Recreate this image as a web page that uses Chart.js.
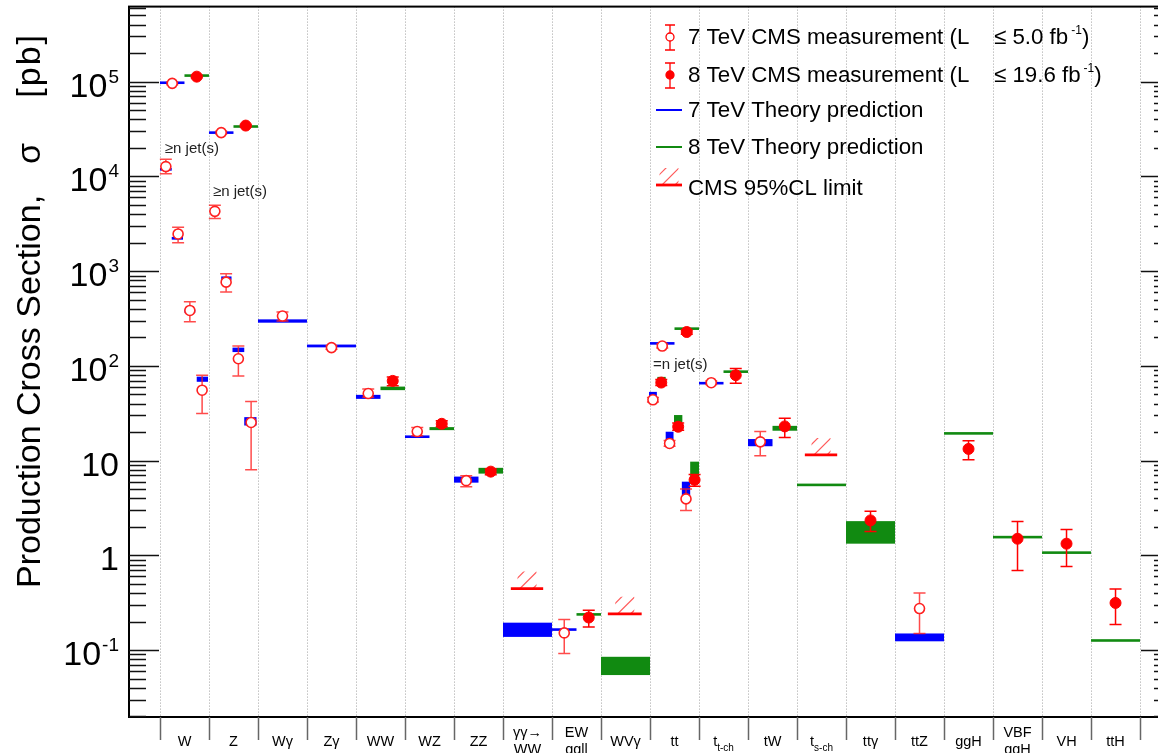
<!DOCTYPE html>
<html>
<head>
<meta charset="utf-8">
<script src="https://cdn.jsdelivr.net/npm/chart.js@4.4.1/dist/chart.umd.min.js"></script>
<style>
  html, body { margin: 0; padding: 0; overflow: hidden; background: #fff; }
  canvas { display: block; }
</style>
</head>
<body>
<canvas id="xsec" width="1180" height="753"></canvas>
<script>
const FONT = '"Liberation Sans", Arial, Helvetica, sans-serif';
const BLUE = '#0000ff';
const GREEN = '#118a11';
const RED = '#ff0000';

// process names, '\n' = second line, '_' = subscript
const categories = ['W', 'Z', 'Wγ', 'Zγ', 'WW', 'WZ', 'ZZ', 'γγ→\nWW', 'EW\nqqll', 'WVγ',
  'tt', 't_t-ch', 'tW', 't_s-ch', 'ttγ', 'ttZ', 'ggH', 'VBF\nqqH', 'VH', 'ttH'];

const yTickValues = [0.1, 1, 10, 100, 1e3, 1e4, 1e5];
const yTickLabels = [['10', '-1'], ['1', ''], ['10', ''], ['10', '2'], ['10', '3'], ['10', '4'], ['10', '5']];

// 7 TeV measurements [bin position, sigma, low, high] in pb
const meas7 = [
  [0.25, 9.6e4, 9.3e4, 9.9e4],
  [0.12, 1.27e4, 1.07e4, 1.52e4],
  [0.37, 2.47e3, 1.99e3, 2.9e3],
  [0.61, 385, 293, 475],
  [0.86, 55.4, 31.5, 79.8],
  [1.25, 2.9e4, 2.8e4, 3.0e4],
  [1.12, 4.28e3, 3.59e3, 4.95e3],
  [1.35, 766, 601, 937],
  [1.60, 119, 78.5, 162],
  [1.86, 25.3, 8.0, 42],
  [2.5, 336, 298, 370],
  [3.5, 156, 150, 163],
  [4.25, 51.1, 46.6, 56.9],
  [5.25, 20.3, 18.3, 22.4],
  [6.25, 6.15, 5.3, 6.95],
  [8.25, 0.152, 0.092, 0.21],
  [10.25, 162, 155, 170],
  [10.06, 43.9, 41.5, 46.5],
  [10.40, 15.2, 14.2, 16.3],
  [10.735, 3.95, 2.98, 5.03],
  [11.25, 66.5, 63.5, 69.5],
  [12.25, 15.8, 11.3, 20.3],
  [15.5, 0.275, 0.150, 0.401]
];

// 8 TeV measurements [bin position, sigma, low, high] in pb
const meas8 = [
  [0.75, 1.13e5, 1.10e5, 1.16e5],
  [1.75, 3.44e4, 3.35e4, 3.53e4],
  [4.75, 69.5, 61.6, 76.6],
  [5.75, 24.5, 22.8, 26.3],
  [6.75, 7.66, 7.1, 8.2],
  [8.75, 0.221, 0.176, 0.264],
  [10.75, 228, 216, 240],
  [10.23, 66.7, 62, 72],
  [10.575, 22.8, 21, 25],
  [10.91, 6.27, 5.36, 7.13],
  [11.75, 79.8, 65.8, 93.7],
  [12.75, 23.0, 17.6, 28.1],
  [14.5, 2.34, 1.79, 2.92],
  [16.5, 13.3, 10.2, 16.2],
  [17.5, 1.50, 0.695, 2.28],
  [18.5, 1.33, 0.766, 1.88],
  [19.5, 0.315, 0.187, 0.442]
];

// theory predictions [from, to, low, high] in pb
const theory7 = [
  [0, 0.5, 9.5e4, 1.0e5],
  [0.0, 0.24, 1.15e4, 1.23e4],
  [0.24, 0.47, 2.15e3, 2.3e3],
  [0.50, 0.72, 365, 395],
  [0.75, 0.98, 68, 77],
  [1, 1.5, 2.82e4, 2.98e4],
  [1.02, 1.22, 4.2e3, 4.5e3],
  [1.25, 1.46, 810, 880],
  [1.48, 1.72, 140, 156],
  [1.72, 1.97, 23.5, 28.8],
  [2, 3, 286, 310],
  [3, 4, 157, 168],
  [4, 4.5, 44.9, 49.5],
  [5, 5.5, 17.5, 18.3],
  [6, 6.5, 5.86, 6.79],
  [7, 8, 0.138, 0.195],
  [8, 8.5, 0.16, 0.17],
  [10, 10.5, 168, 178],
  [9.98, 10.14, 43.9, 53.2],
  [10.32, 10.48, 13.8, 20.2],
  [10.65, 10.82, 4.28, 6.0],
  [11, 11.5, 64.5, 67],
  [12, 12.5, 14.2, 16.9],
  [15, 16, 0.124, 0.150]
];

const theory8 = [
  [0.5, 1, 1.13e5, 1.19e5],
  [1.5, 2, 3.28e4, 3.45e4],
  [4.5, 5, 55.5, 60.5],
  [5.5, 6, 21, 22.6],
  [6.5, 7, 7.3, 8.4],
  [8.5, 9, 0.232, 0.245],
  [9, 10, 0.0546, 0.0851],
  [10.5, 11, 240, 255],
  [10.15, 10.32, 64, 76.6],
  [10.49, 10.66, 20.7, 30.3],
  [10.82, 11, 5.69, 9.76],
  [11.5, 12, 85, 89],
  [12.5, 13, 20.7, 23.3],
  [13, 14, 5.4, 5.7],
  [14, 15, 1.33, 2.30],
  [16, 17, 19.2, 19.6],
  [17, 18, 1.52, 1.60],
  [18, 19, 1.05, 1.09],
  [19, 20, 0.125, 0.128]
];

// 95% CL upper limits [from, to, sigma]
const limits = [
  [7.16, 7.82, 0.447],
  [9.14, 9.83, 0.242],
  [13.16, 13.82, 11.5]
];

const jetNotes = ['≥n jet(s)', '≥n jet(s)', '=n jet(s)'];
const jetNoteX = [0.1, 1.08, 10.06];
const jetNoteY = [1.97e4, 6.8e3, 102];

function drawBands(ctx, x, y, rows, color) {
  ctx.fillStyle = color;
  rows.forEach(([x0, x1, lo, hi]) => {
    const px0 = x.getPixelForValue(x0), px1 = x.getPixelForValue(x1);
    let top = y.getPixelForValue(hi), bot = y.getPixelForValue(lo);
    if (bot - top < 2.6) { const c = (top + bot) / 2; top = c - 1.3; bot = c + 1.3; }
    ctx.fillRect(px0, top, px1 - px0, bot - top);
  });
}

function drawErrors(ctx, x, y, rows, color) {
  ctx.strokeStyle = color;
  ctx.lineWidth = 1.5;
  rows.forEach(([xv, , lo, hi]) => {
    const px = x.getPixelForValue(xv);
    const top = y.getPixelForValue(hi), bot = y.getPixelForValue(lo);
    ctx.beginPath();
    ctx.moveTo(px, top); ctx.lineTo(px, bot);
    ctx.moveTo(px - 6, top); ctx.lineTo(px + 6, top);
    ctx.moveTo(px - 6, bot); ctx.lineTo(px + 6, bot);
    ctx.stroke();
  });
}

// red line with a short diagonal hatch on the excluded side
function drawLimit(ctx, x0, x1, py) {
  const cx = (x0 + x1) / 2;
  ctx.save();
  ctx.beginPath();
  ctx.rect(cx - 9.5, py - 17, 19, 17);
  ctx.clip();
  ctx.strokeStyle = 'rgba(255,40,40,0.75)';
  ctx.lineWidth = 1.2;
  ctx.beginPath();
  [-20, -7, 6].forEach(d => {
    ctx.moveTo(cx + d, py);
    ctx.lineTo(cx + d + 20, py - 20);
  });
  ctx.stroke();
  ctx.restore();
  ctx.strokeStyle = RED;
  ctx.lineWidth = 2.8;
  ctx.beginPath();
  ctx.moveTo(x0, py); ctx.lineTo(x1, py);
  ctx.stroke();
}

function drawPower(ctx, base, exp, xRight, yc) {
  ctx.fillStyle = '#000';
  ctx.textAlign = 'left';
  ctx.textBaseline = 'alphabetic';
  ctx.font = '19px ' + FONT;
  const ew = exp ? ctx.measureText(exp).width + 1 : 0;
  ctx.font = '34px ' + FONT;
  const bw = ctx.measureText(base).width;
  ctx.fillText(base, xRight - ew - bw, yc + 15);
  if (exp) {
    ctx.font = '19px ' + FONT;
    ctx.fillText(exp, xRight - ew + 1, yc + 1);
  }
}

function drawCategory(ctx, label, cx) {
  ctx.fillStyle = '#000';
  ctx.textBaseline = 'alphabetic';
  if (label.includes('\n')) {
    const [l1, l2] = label.split('\n');
    ctx.font = '14.5px ' + FONT;
    ctx.textAlign = 'center';
    ctx.fillText(l1, cx, 737);
    ctx.fillText(l2, cx, 754);
  } else if (label.includes('_')) {
    const [main, sub] = label.split('_');
    ctx.font = '14.5px ' + FONT;
    const mw = ctx.measureText(main).width;
    ctx.font = '10px ' + FONT;
    const sw = ctx.measureText(sub).width;
    const left = cx - (mw + sw) / 2;
    ctx.textAlign = 'left';
    ctx.font = '14.5px ' + FONT;
    ctx.fillText(main, left, 746);
    ctx.font = '10px ' + FONT;
    ctx.fillText(sub, left + mw, 751);
  } else {
    ctx.font = '14.5px ' + FONT;
    ctx.textAlign = 'center';
    ctx.fillText(label, cx, 746);
  }
}

function legendMarker(ctx, px, py, filled) {
  ctx.strokeStyle = RED;
  ctx.lineWidth = 1.3;
  ctx.beginPath();
  ctx.moveTo(px, py - 12); ctx.lineTo(px, py + 13);
  ctx.moveTo(px - 5, py - 12); ctx.lineTo(px + 5, py - 12);
  ctx.moveTo(px - 5, py + 13); ctx.lineTo(px + 5, py + 13);
  ctx.stroke();
  ctx.beginPath();
  ctx.arc(px, py, 4, 0, Math.PI * 2);
  ctx.fillStyle = filled ? RED : '#fff';
  ctx.fill();
  ctx.stroke();
}

function legendText(ctx, text, px, base, tail, sup) {
  ctx.fillStyle = '#000';
  ctx.textAlign = 'left';
  ctx.textBaseline = 'alphabetic';
  ctx.font = '22.3px ' + FONT;
  ctx.fillText(text, px, base);
  if (tail) {
    ctx.fillText(tail, 994, base);
    let tx = 994 + ctx.measureText(tail).width + 3;
    ctx.font = '12px ' + FONT;
    ctx.fillText(sup, tx, base - 10);
    tx += ctx.measureText(sup).width;
    ctx.font = '22.3px ' + FONT;
    ctx.fillText(')', tx, base);
  }
}

const rootStyle = {
  id: 'rootStyle',
  beforeDatasetsDraw(chart) {
    const { ctx, chartArea: a, scales: { x, y } } = chart;
    ctx.save();
    // dotted bin boundaries
    ctx.strokeStyle = '#a0a0a0';
    ctx.lineWidth = 1;
    ctx.setLineDash([1, 2]);
    for (let i = 0; i <= categories.length; i++) {
      const px = Math.round(x.getPixelForValue(i)) + 0.5;
      ctx.beginPath();
      ctx.moveTo(px, a.top); ctx.lineTo(px, a.bottom);
      ctx.stroke();
    }
    ctx.setLineDash([]);

    drawBands(ctx, x, y, theory7, BLUE);
    drawBands(ctx, x, y, theory8, GREEN);
    limits.forEach(([x0, x1, v]) => drawLimit(ctx, x.getPixelForValue(x0), x.getPixelForValue(x1), y.getPixelForValue(v)));
    drawErrors(ctx, x, y, meas7, 'rgba(255,30,30,0.8)');
    drawErrors(ctx, x, y, meas8, RED);
    ctx.restore();
  },
  afterDraw(chart) {
    const { ctx, chartArea: a, scales: { x, y } } = chart;
    ctx.save();

    // frame
    ctx.strokeStyle = '#000';
    ctx.lineWidth = 2;
    ctx.strokeRect(a.left, a.top, a.right - a.left, a.bottom - a.top);

    // log ticks on both vertical axes
    ctx.lineWidth = 1.3;
    ctx.strokeStyle = '#111';
    for (let d = -2; d <= 5; d++) {
      for (let m = 1; m <= 9; m++) {
        const v = m * Math.pow(10, d);
        if (v < y.min || v > y.max) continue;
        const py = Math.round(y.getPixelForValue(v)) + 0.5;
        const len = m === 1 ? 30 : 17;
        ctx.beginPath();
        ctx.moveTo(a.left, py); ctx.lineTo(a.left + len, py);
        ctx.moveTo(a.right, py); ctx.lineTo(a.right - len, py);
        ctx.stroke();
      }
    }

    // bin edge ticks below the axis
    ctx.strokeStyle = '#666';
    ctx.lineWidth = 1.5;
    for (let i = 0; i <= categories.length; i++) {
      const px = Math.round(x.getPixelForValue(i)) + 0.5;
      ctx.beginPath();
      ctx.moveTo(px, a.bottom); ctx.lineTo(px, a.bottom + 23);
      ctx.stroke();
    }

    categories.forEach((c, i) => drawCategory(ctx, c, x.getPixelForValue(i + 0.5)));
    yTickValues.forEach((v, i) => drawPower(ctx, yTickLabels[i][0], yTickLabels[i][1], 119, y.getPixelForValue(v)));

    // axis title
    ctx.save();
    ctx.translate(40, 588);
    ctx.rotate(-Math.PI / 2);
    ctx.fillStyle = '#000';
    ctx.font = '34px ' + FONT;
    ctx.textAlign = 'left';
    ctx.fillText('Production Cross Section,', 0, 0);
    ctx.fillText('σ', 424, 0);
    ctx.textAlign = 'right';
    ctx.letterSpacing = '2px';
    ctx.fillText('[pb]', 555, 0);
    ctx.letterSpacing = '0px';
    ctx.restore();

    // jet multiplicity notes
    ctx.fillStyle = '#222';
    ctx.font = '15px ' + FONT;
    ctx.textAlign = 'left';
    ctx.textBaseline = 'middle';
    jetNotes.forEach((t, i) => ctx.fillText(t, x.getPixelForValue(jetNoteX[i]), y.getPixelForValue(jetNoteY[i])));

    // legend
    legendMarker(ctx, 670, 37, false);
    legendText(ctx, '7 TeV CMS measurement (L', 688, 44, '≤ 5.0 fb', '-1');
    legendMarker(ctx, 670, 75, true);
    legendText(ctx, '8 TeV CMS measurement (L', 688, 82, '≤ 19.6 fb', '-1');
    ctx.lineWidth = 2;
    ctx.strokeStyle = BLUE;
    ctx.beginPath(); ctx.moveTo(656, 110); ctx.lineTo(682, 110); ctx.stroke();
    legendText(ctx, '7 TeV Theory prediction', 688, 117);
    ctx.strokeStyle = GREEN;
    ctx.beginPath(); ctx.moveTo(656, 147); ctx.lineTo(682, 147); ctx.stroke();
    legendText(ctx, '8 TeV Theory prediction', 688, 154);
    drawLimit(ctx, 656, 682, 185);
    legendText(ctx, 'CMS 95%CL limit', 688, 195);

    ctx.restore();
  }
};

const toPoints = rows => rows.map(r => ({ x: r[0], y: r[1] }));

new Chart(document.getElementById('xsec'), {
  type: 'scatter',
  data: {
    datasets: [
      {
        label: '7 TeV CMS measurement',
        data: toPoints(meas7),
        pointRadius: 5,
        pointBorderWidth: 1.6,
        pointBorderColor: '#ff2020',
        pointBackgroundColor: '#ffffff'
      },
      {
        label: '8 TeV CMS measurement',
        data: toPoints(meas8),
        pointRadius: 5.5,
        pointBorderWidth: 1,
        pointBorderColor: RED,
        pointBackgroundColor: RED
      }
    ]
  },
  options: {
    responsive: false,
    animation: false,
    events: [],
    layout: { padding: { left: 129, top: 5, right: 9, bottom: 36 } },
    scales: {
      x: { type: 'linear', min: -0.632, max: 20.632, display: false },
      y: { type: 'logarithmic', min: 0.0197, max: 6.2e5, display: false }
    },
    plugins: { legend: { display: false }, tooltip: { enabled: false } }
  },
  plugins: [rootStyle]
});
</script>
</body>
</html>
